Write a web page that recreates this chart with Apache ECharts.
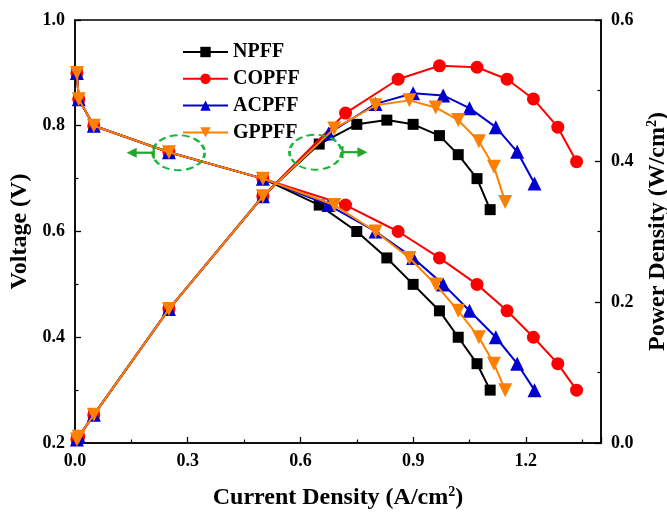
<!DOCTYPE html>
<html>
<head>
<meta charset="utf-8">
<script src="https://cdn.jsdelivr.net/npm/echarts@6/dist/echarts.min.js"></script>
<style>
html,body{margin:0;padding:0;background:#fff;}
#main{width:667px;height:516px;}
</style>
</head>
<body>
<div id="main"></div>
<script>
// ---- Data ----
const seriesNames = ['NPFF', 'COPFF', 'ACPFF', 'GPPFF'];

const currentNPFF = [0.005, 0.01, 0.05, 0.25, 0.5, 0.65, 0.75, 0.83, 0.9, 0.97, 1.02, 1.07, 1.105];
const voltageNPFF = [0.9, 0.85, 0.8, 0.75, 0.7, 0.65, 0.6, 0.55, 0.5, 0.45, 0.4, 0.35, 0.3];
const powerNPFF   = [0.005, 0.009, 0.04, 0.19, 0.35, 0.424, 0.452, 0.458, 0.452, 0.436, 0.409, 0.375, 0.331];

const currentCOPFF = [0.005, 0.01, 0.05, 0.25, 0.5, 0.72, 0.86, 0.97, 1.07, 1.15, 1.22, 1.285, 1.335];
const voltageCOPFF = [0.9, 0.85, 0.8, 0.75, 0.7, 0.65, 0.6, 0.55, 0.5, 0.45, 0.4, 0.35, 0.3];
const powerCOPFF   = [0.005, 0.009, 0.04, 0.19, 0.35, 0.468, 0.516, 0.535, 0.533, 0.516, 0.488, 0.448, 0.399];

const currentACPFF = [0.005, 0.01, 0.05, 0.25, 0.5, 0.675, 0.8, 0.9, 0.98, 1.05, 1.12, 1.177, 1.223];
const voltageACPFF = [0.9, 0.85, 0.8, 0.75, 0.7, 0.65, 0.6, 0.55, 0.5, 0.45, 0.4, 0.35, 0.3];
const powerACPFF   = [0.005, 0.009, 0.04, 0.19, 0.35, 0.439, 0.481, 0.496, 0.493, 0.475, 0.448, 0.413, 0.368];

const currentGPPFF = [0.005, 0.01, 0.05, 0.25, 0.5, 0.69, 0.8, 0.89, 0.96, 1.02, 1.075, 1.115, 1.145];
const voltageGPPFF = [0.9, 0.85, 0.8, 0.75, 0.7, 0.65, 0.6, 0.55, 0.5, 0.45, 0.4, 0.35, 0.3];
const powerGPPFF   = [0.005, 0.009, 0.04, 0.19, 0.35, 0.446, 0.479, 0.486, 0.476, 0.458, 0.428, 0.392, 0.342];

// annotation anchors (data coordinates: current, voltage)
const leftMarkCenter  = [0.276, 0.749];
const rightMarkCenter = [0.640, 0.750];

// ---- Styling ----
const FONT = '"Liberation Serif", "Times New Roman", serif';
const colors = ['#000000', '#ff0000', '#0000d0', '#ff8000'];
const symbols = ['rect', 'circle', 'triangle', 'triangle'];
const symbolSizes = [11, 13, 14, 14];
const symbolRotates = [0, 0, 0, 180];

const currents = [currentNPFF, currentCOPFF, currentACPFF, currentGPPFF];
const voltages = [voltageNPFF, voltageCOPFF, voltageACPFF, voltageGPPFF];
const powers = [powerNPFF, powerCOPFF, powerACPFF, powerGPPFF];

function zip(a, b) { return a.map((v, i) => [v, b[i]]); }

const series = [];
seriesNames.forEach((name, i) => {
  const common = {
    name: name,
    type: 'line',
    symbol: symbols[i],
    symbolSize: symbolSizes[i],
    symbolRotate: symbolRotates[i],
    showAllSymbol: true,
    lineStyle: { color: colors[i], width: 2 },
    itemStyle: { color: colors[i] },
    emphasis: { disabled: true },
    animation: false,
    z: 2 + i
  };
  series.push(Object.assign({}, common, { yAxisIndex: 0, data: zip(currents[i], voltages[i]) }));
  series.push(Object.assign({}, common, { yAxisIndex: 1, data: zip(currents[i], powers[i]) }));
});

const labelStyle = { fontFamily: FONT, fontWeight: 'bold', fontSize: 18, color: '#000' };
function nameRich(size) {
  return {
    a: { fontFamily: FONT, fontWeight: 'bold', fontSize: size, color: '#000' },
    s: { fontFamily: FONT, fontWeight: 'bold', fontSize: Math.round(size * 0.6), color: '#000', verticalAlign: 'top', padding: [0, 0, Math.round(size * 0.45), 0] }
  };
}

const chart = echarts.init(document.getElementById('main'), null, { renderer: 'canvas' });

const option = {
  backgroundColor: '#fff',
  animation: false,
  grid: {
    left: 75, right: 66, top: 20, bottom: 73,
    containLabel: false,
    outerBoundsMode: 'none',
    show: true, borderColor: '#000', borderWidth: 1.5, backgroundColor: 'transparent'
  },
  legend: {
    data: seriesNames,
    orient: 'vertical',
    left: 182, top: 42,
    padding: 0,
    itemWidth: 45, itemHeight: 13,
    itemGap: 6.8,
    textStyle: { fontFamily: FONT, fontWeight: 'bold', fontSize: 20, color: '#000', lineHeight: 18 },
    selectedMode: false
  },
  xAxis: {
    type: 'value',
    min: 0, max: 1.4, interval: 0.3,
    name: '{a|Current Density (A/cm}{s|2}{a|)}',
    nameLocation: 'middle',
    nameGap: 42,
    nameTextStyle: { rich: nameRich(24) },
    axisLine: { show: true, onZero: false, lineStyle: { color: '#000', width: 1.5 } },
    axisTick: { show: true, inside: true, length: 6, lineStyle: { color: '#000', width: 1.3 } },
    minorTick: { show: true, splitNumber: 2, length: 3.5, lineStyle: { color: '#000', width: 1.2 } },
    splitLine: { show: false },
    axisLabel: Object.assign({}, labelStyle, {
      margin: 9, showMaxLabel: false,
      formatter: v => v.toFixed(1)
    })
  },
  yAxis: [
    {
      type: 'value',
      min: 0.2, max: 1.0, interval: 0.2,
      position: 'left',
      name: '{a|Voltage (V)}',
      nameLocation: 'middle',
      nameRotate: 90,
      nameGap: 42,
      nameTextStyle: { rich: nameRich(24) },
      axisLine: { show: true, onZero: false, lineStyle: { color: '#000', width: 1.5 } },
      axisTick: { show: true, inside: true, length: 6, lineStyle: { color: '#000', width: 1.3 } },
      minorTick: { show: true, splitNumber: 2, length: 3.5, lineStyle: { color: '#000', width: 1.2 } },
      splitLine: { show: false },
      axisLabel: Object.assign({}, labelStyle, { margin: 10, formatter: v => v.toFixed(1) })
    },
    {
      type: 'value',
      min: 0, max: 0.6, interval: 0.2,
      position: 'right',
      name: '{a|Power Density (W/cm}{s|2}{a|)}',
      nameLocation: 'middle',
      nameRotate: 90,
      nameGap: 44,
      nameTextStyle: { rich: nameRich(24) },
      axisLine: { show: true, onZero: false, lineStyle: { color: '#000', width: 1.5 } },
      axisTick: { show: true, inside: true, length: 6, lineStyle: { color: '#000', width: 1.3 } },
      minorTick: { show: true, splitNumber: 2, length: 3.5, lineStyle: { color: '#000', width: 1.2 } },
      splitLine: { show: false },
      axisLabel: Object.assign({}, labelStyle, { margin: 10, formatter: v => v.toFixed(1) })
    }
  ],
  series: series
};

chart.setOption(option);

// ---- green annotations, positioned from data coordinates ----
const green = '#1db53c';
const arrowGreen = '#22a52a';
const pL = chart.convertToPixel({ xAxisIndex: 0, yAxisIndex: 0 }, leftMarkCenter);
const pR = chart.convertToPixel({ xAxisIndex: 0, yAxisIndex: 0 }, rightMarkCenter);

function ellipse(c, rx, ry) {
  return {
    type: 'circle',
    x: c[0], y: c[1],
    scaleY: ry / rx,
    shape: { cx: 0, cy: 0, r: rx },
    style: { fill: 'none', stroke: green, lineWidth: 2.8, lineDash: [8, 4.5], strokeNoScale: true },
    strokeNoScale: true,
    silent: true, z: 100
  };
}
function arrow(x0, x1, y) {
  const dir = x1 > x0 ? 1 : -1;
  return [
    { type: 'line', shape: { x1: x0, y1: y - 6, x2: x0, y2: y + 6 }, style: { stroke: arrowGreen, lineWidth: 2.2 }, silent: true, z: 100 },
    { type: 'line', shape: { x1: x0, y1: y, x2: x1 - dir * 8, y2: y }, style: { stroke: arrowGreen, lineWidth: 2.2 }, silent: true, z: 100 },
    { type: 'polygon', shape: { points: [[x1, y], [x1 - dir * 10, y - 5], [x1 - dir * 10, y + 5]] }, style: { fill: arrowGreen }, silent: true, z: 100 }
  ];
}

chart.setOption({
  graphic: [
    ellipse(pL, 26, 17.5),
    ellipse(pR, 26, 17.5),
    ...arrow(pL[0] - 25, pL[0] - 52, pL[1]),
    ...arrow(pR[0] + 27, pR[0] + 52, pR[1])
  ]
});
</script>
</body>
</html>
